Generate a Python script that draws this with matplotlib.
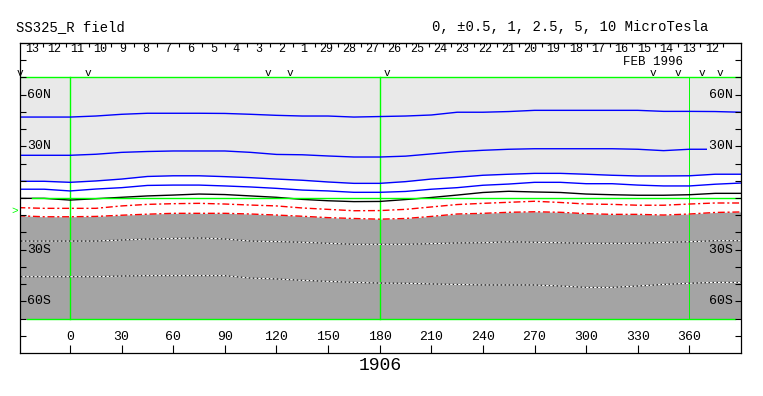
import matplotlib
matplotlib.use('Agg')
import matplotlib.pyplot as plt

# ---- data ----
lon = [-30, -15, 0, 15, 30, 45, 60, 75, 90, 105, 120, 135, 150, 165, 180,
       195, 210, 225, 240, 255, 270, 285, 300, 315, 330, 345, 360, 375, 390]

# contour latitudes (deg) along longitude, one list per level
c_p10 = [47.0, 47.0, 47.0, 47.6, 48.6, 49.2, 49.2, 49.2, 49.1, 48.6, 48.0, 47.6, 47.6, 47.0, 47.3,
         47.6, 48.2, 49.8, 49.8, 50.2, 50.9, 50.9, 50.9, 50.9, 50.9, 50.3, 50.3, 50.2, 49.8]
c_p5 = [24.8, 24.8, 24.8, 25.4, 26.5, 27.0, 27.3, 27.3, 27.3, 26.5, 25.3, 25.1, 24.4, 23.8, 23.8,
        24.3, 25.6, 26.9, 27.7, 28.3, 28.6, 28.6, 28.6, 28.6, 28.3, 27.5, 28.3, 28.3, 28.5]
c_p2_5 = [9.7, 9.7, 9.1, 9.9, 11.0, 12.5, 12.9, 12.9, 12.4, 11.8, 11.0, 10.3, 9.3, 8.5, 8.5,
          9.5, 11.0, 12.0, 13.2, 13.8, 14.3, 14.3, 13.8, 13.2, 12.8, 12.8, 12.9, 13.8, 13.8]
c_p1 = [5.1, 5.1, 4.1, 5.2, 6.0, 7.3, 7.5, 7.5, 7.0, 6.4, 5.6, 4.6, 4.1, 3.3, 3.3,
        3.8, 5.1, 6.0, 7.4, 8.1, 9.1, 9.1, 8.3, 8.3, 7.5, 7.0, 7.0, 8.0, 8.7]
c_p0_5 = [-0.2, -0.2, -1.2, -0.4, 0.4, 1.2, 1.7, 2.3, 2.0, 1.2, 0.4, -0.8, -1.6, -2.1, -2.0,
          -0.9, 0.3, 1.7, 3.2, 3.9, 3.5, 3.2, 2.3, 1.9, 1.6, 1.6, 1.9, 2.7, 2.7]
c_m0_5 = [-5.6, -6.0, -6.0, -6.0, -4.6, -3.7, -3.3, -3.1, -3.5, -4.1, -4.6, -5.8, -6.6, -7.4, -7.3,
          -6.6, -5.2, -3.8, -3.1, -2.5, -1.9, -2.6, -3.5, -3.7, -4.2, -4.2, -3.5, -2.9, -2.9]
c_m1 = [-10.3, -10.9, -10.9, -10.7, -10.0, -9.4, -8.9, -8.9, -8.9, -9.3, -9.9, -10.6, -11.4, -11.9, -12.3,
        -11.9, -10.7, -9.3, -8.9, -8.3, -8.0, -8.3, -9.1, -9.5, -9.5, -9.9, -9.3, -8.4, -8.1]
c_m2_5 = [-25.0, -25.0, -25.0, -25.0, -24.4, -23.8, -23.5, -23.2, -23.8, -25.0, -25.3, -25.7, -26.3, -26.9, -26.9,
          -26.9, -26.5, -26.1, -26.0, -25.4, -25.7, -26.0, -26.3, -26.3, -26.3, -25.8, -25.4, -24.8, -24.8]
c_m5 = [-45.7, -45.7, -45.7, -45.7, -45.3, -45.1, -45.1, -45.1, -45.1, -46.5, -47.0, -47.8, -48.4, -49.0, -49.4,
        -49.5, -49.9, -50.2, -50.5, -50.5, -50.5, -51.1, -51.9, -51.9, -51.1, -50.2, -49.5, -49.0, -49.0]

day_labels = ['13', '12', '11', '10', '9', '8', '7', '6', '5', '4', '3', '2', '1', '29', '28', '27',
              '26', '25', '24', '23', '22', '21', '20', '19', '18', '17', '16', '15', '14', '13', '12']
first_day_tick = -15.5      # longitude of first day boundary
deg_per_day = 13.17
gap_marks = [-29.1, 10.5, 115.1, 127.9, 184.2, 338.9, 353.4, 367.3, 377.8]
b0_angle = -7.3

lon_ticks = list(range(0, 361, 30))
lat_ticks = list(range(-80, 81, 10))
lat_labels = {60: '60N', 30: '30N', -30: '30S', -60: '60S'}

MONO = 'Liberation Mono'
GREEN = '#00ff00'
LIGHT = '#e9e9e9'
DARK = '#a4a4a4'

fig = plt.figure(figsize=(7.63, 3.96), dpi=100)
ax = fig.add_axes([20 / 763, 43 / 396, 721 / 763, 310 / 396])
ax.set_xlim(-29.06, 390.0)
ax.set_ylim(-90, 90)

# background shading
ax.fill_between(lon, c_p2_5, 70, color=LIGHT, lw=0, zorder=0)
ax.fill_between(lon, -70, c_m1, color=DARK, lw=0, zorder=0)

# green frame / grid lines
ax.plot([-29.06, 390.0], [70, 70], color=GREEN, lw=1, zorder=1)
ax.plot([-25.2, 386.5], [-70, -70], color=GREEN, lw=1, zorder=1)
for x in (0, 180, 360):
    ax.plot([x, x], [-70, 70], color=GREEN, lw=1 if x != 360 else 0.7, zorder=1)

# contours
for c in (c_p10, c_p5, c_p2_5, c_p1):
    ax.plot(lon, c, color='#0000ff', lw=1, zorder=3)
ax.plot(lon, c_p0_5, color='black', lw=1, zorder=3)
ax.plot([-22, 390.0], [0, 0], color=GREEN, lw=1, zorder=4)
for c in (c_m0_5, c_m1):
    ax.plot(lon, c, color='red', lw=1, ls=(0, (5, 2, 1.5, 2)), zorder=3)
for c in (c_m2_5, c_m5):
    ax.plot(lon, c, color='#222222', lw=0.9, zorder=3)
    ax.plot(lon, c, color='white', lw=0.9, ls=(0, (2, 1.2)), zorder=3)

# ticks
ax.set_xticks(lon_ticks)
ax.set_yticks(lat_ticks)
ax.tick_params(axis='x', direction='in', length=6, width=0.8, labelbottom=False)
ax.tick_params(axis='y', direction='in', length=4.5, width=0.8, left=True, right=True,
               labelleft=False)
ax.xaxis.set_zorder(6)
ax.yaxis.set_zorder(6)
for s in ax.spines.values():
    s.set_linewidth(0.9)
    s.set_zorder(7)

day_ticks = [first_day_tick + i * deg_per_day for i in range(len(day_labels))]
top = ax.secondary_xaxis('top')
top.set_xticks(day_ticks)
top.set_xticklabels([])
top.tick_params(direction='in', length=3, width=0.8)

# date labels
for tick, lab in zip(day_ticks, day_labels):
    ax.text(tick - deg_per_day / 2, 86.8, lab, ha='center', va='center',
            fontsize=8.5, family=MONO)
ax.text(338.9, 79.0, 'FEB 1996', ha='center', va='center', fontsize=9, family=MONO)
for g in gap_marks:
    ax.text(g, 72.8, 'v', ha='center', va='center', fontsize=8, family=MONO, clip_on=False)

# longitude labels
for t in lon_ticks:
    ax.text(t, -80.7, str(t), ha='center', va='center', fontsize=9.5, family=MONO)

# latitude labels
for lat, lab in lat_labels.items():
    ax.text(-25.0, lat, lab, ha='left', va='center', fontsize=9.5, family=MONO, zorder=5)
    bg = LIGHT if lat > 0 else DARK
    ax.text(390.0, lat, lab + ' ', ha='right', va='center', fontsize=9.5, family=MONO, zorder=5,
            clip_on=True,
            bbox=dict(boxstyle='square,pad=0.15', facecolor=bg, edgecolor='none'))

ax.text(-30.5, b0_angle, '>', color=GREEN, ha='right', va='center', fontsize=8,
        family=MONO, clip_on=False)

fig.text(16 / 763, 1 - 27 / 396, 'SS325_R field', ha='left', va='center', fontsize=10, family=MONO)
fig.text(432 / 763, 1 - 27 / 396, '0, ±0.5, 1, 2.5, 5, 10 MicroTesla', ha='left', va='center',
         fontsize=10, family=MONO)
fig.text(380 / 763, 1 - 366 / 396, '1906', ha='center', va='center', fontsize=13, family=MONO)

fig.savefig('out.png', dpi=100)
